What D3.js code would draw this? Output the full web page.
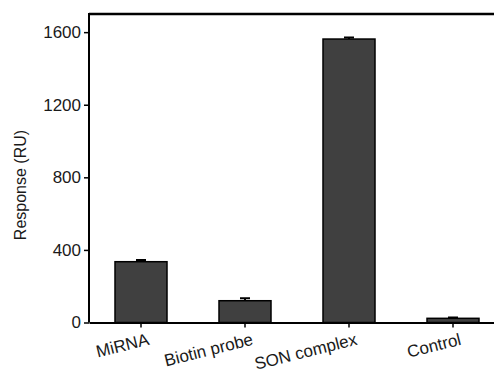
<!DOCTYPE html>
<html>
<head>
<meta charset="utf-8">
<script src="https://cdn.jsdelivr.net/npm/d3@7"></script>
<style>
  body { margin: 0; background: #fff; }
  text { font-family: "Liberation Sans", Arial, sans-serif; fill: #1a1a1a; }
</style>
</head>
<body>
<svg id="chart" width="494" height="374"></svg>
<script>
var categories = ["MiRNA", "Biotin probe", "SON complex", "Control"];
var values = [335, 120, 1562, 23];
var errors = [10, 13, 8, 5];
var yTicks = [0, 400, 800, 1200, 1600];

var data = categories.map(function(c, i) {
  return {name: c, value: values[i], err: errors[i]};
});

var svg = d3.select("#chart");
var plotLeft = 89, plotTop = 14, plotBottom = 322.5;

var x = d3.scaleBand()
  .domain(categories)
  .range([plotLeft, 505])
  .paddingInner(0.5)
  .paddingOuter(0.25);
var y = d3.scaleLinear().domain([0, 1700]).range([plotBottom, plotTop]);

// bars
svg.selectAll(".bar")
  .data(data)
  .enter().append("rect")
  .attr("class", "bar")
  .attr("x", function(d) { return x(d.name); })
  .attr("y", function(d) { return y(d.value); })
  .attr("width", x.bandwidth())
  .attr("height", function(d) { return plotBottom - y(d.value); })
  .style("fill", "#404040")
  .style("stroke", "#000")
  .style("stroke-width", 1.5);

// error bars (upper only)
var cap = 5;
svg.selectAll(".err")
  .data(data)
  .enter().append("path")
  .attr("class", "err")
  .attr("d", function(d) {
    var cx = x(d.name) + x.bandwidth() / 2;
    return "M" + cx + "," + y(d.value) + "V" + y(d.value + d.err) +
      "M" + (cx - cap) + "," + y(d.value + d.err) + "H" + (cx + cap);
  })
  .style("stroke", "#000")
  .style("stroke-width", 2)
  .style("fill", "none");

// top frame line
svg.append("line")
  .attr("x1", plotLeft).attr("x2", 494)
  .attr("y1", plotTop).attr("y2", plotTop)
  .style("stroke", "#000")
  .style("stroke-width", 2.5);

var yAxis = d3.axisLeft(y).tickValues(yTicks).tickFormat(d3.format("d"))
  .tickSize(5).tickSizeOuter(0).tickPadding(3);
var gy = svg.append("g")
  .attr("transform", "translate(" + plotLeft + ",0)")
  .call(yAxis);
gy.select(".domain").attr("d", "M0," + (plotTop - 1) + "V" + plotBottom).style("stroke-width", 2);
gy.selectAll(".tick line").style("stroke-width", 1.5);
gy.selectAll(".tick text").style("font-size", "17px").style("fill", "#1a1a1a");

var xAxis = d3.axisBottom(x).tickSize(5).tickSizeOuter(0).tickPadding(4);
var gx = svg.append("g")
  .attr("transform", "translate(0," + plotBottom + ")")
  .call(xAxis);
gx.select(".domain").style("stroke-width", 1.8);
gx.selectAll(".tick line").style("stroke-width", 1.5);
gx.selectAll(".tick text")
  .style("font-size", "17px")
  .style("text-anchor", "end")
  .attr("dy", 0)
  .attr("y", 0)
  .attr("transform", "translate(9,22) rotate(-14)");

svg.append("text")
  .attr("transform", "rotate(-90)")
  .attr("x", -185)
  .attr("y", 26)
  .style("text-anchor", "middle")
  .style("font-size", "16px")
  .text("Response (RU)");
</script>
</body>
</html>
